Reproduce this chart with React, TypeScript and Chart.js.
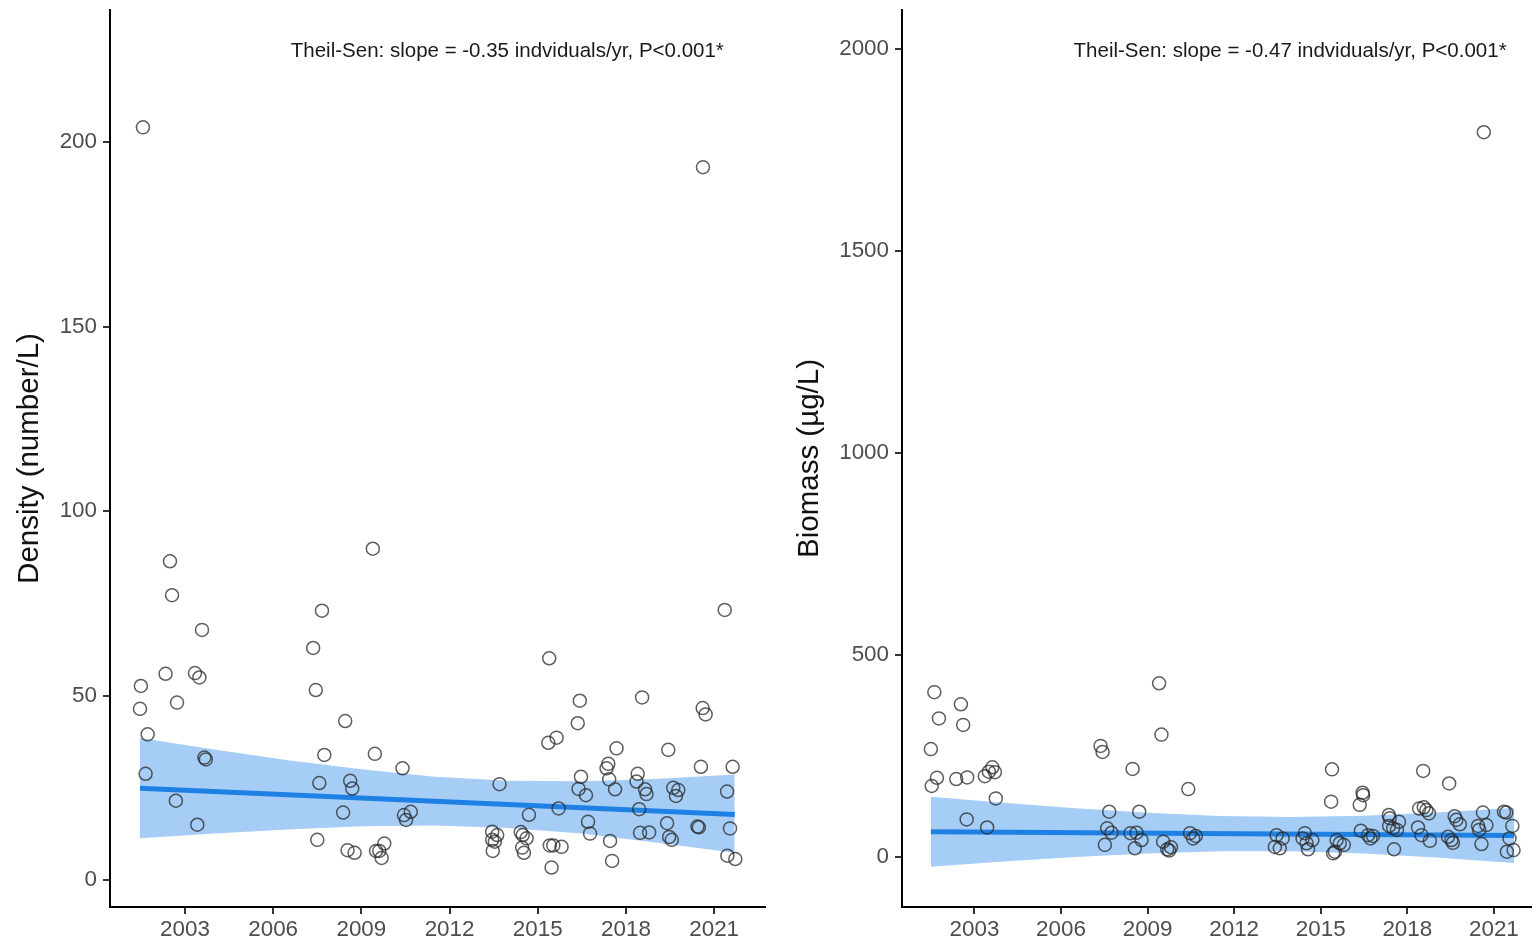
import React, { useEffect, useRef } from "react";
import { Chart, registerables } from "chart.js";

Chart.register(...registerables);

// ---------- tick labels ----------
const yearTicks = [2003, 2006, 2009, 2012, 2015, 2018, 2021];
const densityTicks = [0, 50, 100, 150, 200];
const biomassTicks = [0, 500, 1000, 1500, 2000];

// ---------- density panel (number/L) ----------
const densityYears = [
  2001.57, 2001.5, 2001.47, 2001.73, 2001.66, 2002.49, 2002.56, 2002.34, 2002.73, 2002.69,
  2003.58, 2003.34, 2003.49, 2003.66, 2003.71, 2003.42, 2007.36, 2007.45, 2007.66, 2007.74,
  2007.57, 2007.5, 2008.45, 2008.38, 2008.62, 2008.69, 2008.53, 2008.77, 2009.39, 2009.46,
  2009.5, 2009.61, 2009.69, 2009.78, 2010.4, 2010.45, 2010.52, 2010.68, 2013.7, 2013.45,
  2013.62, 2013.45, 2013.54, 2013.47, 2014.7, 2014.42, 2014.49, 2014.62, 2014.47, 2014.53,
  2015.39, 2015.36, 2015.64, 2015.71, 2015.41, 2015.53, 2015.81, 2015.47, 2016.43, 2016.36,
  2016.47, 2016.39, 2016.64, 2016.71, 2016.78, 2017.4, 2017.34, 2017.43, 2017.68, 2017.63,
  2017.46, 2017.53, 2018.55, 2018.4, 2018.36, 2018.65, 2018.7, 2018.45, 2018.48, 2018.79,
  2019.44, 2019.61, 2019.78, 2019.7, 2019.4, 2019.47, 2019.56, 2020.62, 2020.61, 2020.71,
  2020.55, 2020.43, 2020.48, 2021.36, 2021.63, 2021.44, 2021.54, 2021.45, 2021.72,
];
const densityValues = [
  204, 52.6, 46.4, 39.5, 28.8, 86.4, 77.2, 55.9, 48.1, 21.5,
  67.8, 56.1, 54.9, 33.2, 32.7, 15.0, 62.9, 51.5, 73.0, 33.9,
  26.3, 10.9, 43.1, 18.3, 26.9, 24.8, 8.1, 7.4, 89.8, 34.2,
  7.9, 7.9, 6.0, 9.9, 30.3, 17.6, 16.3, 18.5, 26.0, 13.1,
  12.2, 10.9, 10.4, 7.9, 17.7, 13.0, 12.2, 11.3, 8.8, 7.4,
  60.1, 37.2, 38.6, 19.4, 9.4, 9.4, 9.0, 3.4, 48.6, 42.5,
  28.0, 24.7, 23.0, 15.8, 12.6, 31.5, 30.3, 27.3, 35.7, 24.6,
  10.6, 5.2, 49.5, 28.8, 26.7, 24.6, 23.3, 19.2, 12.8, 12.9,
  35.3, 25.0, 24.4, 22.8, 15.4, 11.7, 10.9, 193.2, 46.6, 44.9,
  30.7, 14.5, 14.3, 73.2, 30.7, 24.0, 14.0, 6.6, 5.7,
];
const densityFitYears = [2001.47, 2021.7];
const densityFitValues = [24.9, 17.8];
const densityBandYears = [2001.47, 2004, 2006.5, 2009, 2011.5, 2014, 2016.5, 2019, 2021.7];
const densityBandUpper = [38.5, 35.4, 32.5, 30.0, 28.0, 26.9, 26.8, 27.4, 28.6];
const densityBandLower = [11.3, 12.6, 13.7, 14.6, 14.8, 14.1, 12.6, 10.2, 7.4];

// ---------- biomass panel (µg/L) ----------
const biomassYears = [
  2001.61, 2002.53, 2001.77, 2002.61, 2001.49, 2001.7, 2001.52, 2002.37, 2002.75, 2003.36,
  2003.5, 2003.62, 2003.71, 2003.74, 2002.73, 2003.44, 2007.37, 2007.44, 2009.4, 2009.48,
  2008.48, 2010.41, 2007.67, 2008.71, 2007.6, 2007.75, 2007.52, 2008.41, 2008.62, 2008.79,
  2008.56, 2009.54, 2009.68, 2009.75, 2009.81, 2010.47, 2010.58, 2010.67, 2013.47, 2013.41,
  2013.58, 2013.68, 2014.45, 2014.51, 2014.56, 2014.71, 2014.37, 2015.39, 2015.36, 2015.49,
  2015.43, 2015.55, 2015.66, 2015.8, 2016.45, 2016.47, 2016.35, 2016.39, 2016.64, 2016.72,
  2016.81, 2017.36, 2017.39, 2017.71, 2017.37, 2017.51, 2017.64, 2017.54, 2018.55, 2018.41,
  2018.57, 2018.66, 2018.75, 2018.37, 2018.49, 2018.78, 2019.45, 2019.64, 2019.7, 2019.82,
  2019.41, 2019.53, 2019.58, 2020.62, 2020.74, 2020.45, 2020.49, 2020.57, 2021.35, 2021.43,
  2021.64, 2021.54, 2021.45, 2021.68, 2020.65,
];
const biomassValues = [
  408, 378, 343, 327, 267, 196, 176, 193, 197, 200,
  211, 222, 210, 145, 93, 73, 275, 260, 430, 303,
  218, 168, 112, 112, 71, 60, 30, 59, 60, 42,
  21.5, 38, 19, 16, 24, 59, 46, 52, 54, 25,
  21.5, 46, 59, 34, 19, 42, 46, 217, 137, 13,
  9, 42, 34, 30, 159, 153, 129, 65, 54, 46,
  52, 104, 96, 87, 77, 71, 67, 19, 213, 120,
  123, 116, 108, 73, 54, 40, 182, 101, 92, 81,
  50, 42, 35, 110, 79, 77, 67, 32, 112, 110,
  77, 46, 13, 17, 1794,
];
const biomassFitYears = [2001.49, 2021.7];
const biomassFitValues = [62.6, 53.0];
const biomassBandYears = [2001.49, 2004, 2006.5, 2009, 2011.5, 2014, 2016.5, 2019, 2021.7];
const biomassBandUpper = [149, 134, 120.6, 109.4, 101.3, 98.9, 102.2, 109.9, 121.1];
const biomassBandLower = [-24, -11.4, -0.2, 8.6, 14.3, 14.5, 8.8, -1.3, -15.1];

const FONT = '"Liberation Sans", Arial, Helvetica, sans-serif';

const zip = (xs: number[], ys: number[]) => xs.map((x, i) => ({ x, y: ys[i] }));

type PanelProps = {
  left: number;
  width: number;
  years: number[];
  values: number[];
  fitYears: number[];
  fitValues: number[];
  bandYears: number[];
  bandUpper: number[];
  bandLower: number[];
  yTicks: number[];
  xMin: number;
  xMax: number;
  yMin: number;
  yMax: number;
  yAxisWidth: number;
  padRight: number;
  title: string;
  note: string;
  noteYear: number;
};

function Panel(p: PanelProps) {
  const ref = useRef<HTMLCanvasElement | null>(null);
  useEffect(() => {
    if (!ref.current) return;
    const notePlugin = {
      id: "notePlugin",
      afterDraw(chart: any) {
        const { ctx, chartArea, scales } = chart;
        ctx.save();
        ctx.font = `20.5px ${FONT}`;
        ctx.fillStyle = "#1a1a1a";
        ctx.textAlign = "right";
        ctx.textBaseline = "alphabetic";
        ctx.fillText(p.note, scales.x.getPixelForValue(p.noteYear), chartArea.top + 47);
        ctx.restore();
      },
    };
    const chart = new Chart(ref.current, {
      type: "line",
      data: {
        datasets: [
          {
            label: "obs",
            data: zip(p.years, p.values),
            showLine: false,
            pointRadius: 6.5,
            pointHoverRadius: 6.5,
            pointBorderWidth: 1.5,
            pointBorderColor: "rgba(40,40,40,0.75)",
            pointBackgroundColor: "rgba(0,0,0,0)",
            fill: false,
          },
          {
            label: "fit",
            data: zip(p.fitYears, p.fitValues),
            borderColor: "#1f80e4",
            borderWidth: 5,
            pointRadius: 0,
            fill: false,
            tension: 0,
          },
          {
            label: "upper",
            data: zip(p.bandYears, p.bandUpper),
            borderColor: "rgba(0,0,0,0)",
            borderWidth: 0,
            pointRadius: 0,
            backgroundColor: "#a5cdf5",
            fill: "+1",
            tension: 0,
          },
          {
            label: "lower",
            data: zip(p.bandYears, p.bandLower),
            borderColor: "rgba(0,0,0,0)",
            borderWidth: 0,
            pointRadius: 0,
            fill: false,
            tension: 0,
          },
        ],
      },
      options: {
        responsive: false,
        animation: false,
        devicePixelRatio: 1,
        events: [],
        layout: { autoPadding: false, padding: { top: 10, right: p.padRight, left: 0, bottom: 0 } },
        plugins: {
          legend: { display: false },
          tooltip: { enabled: false },
        },
        scales: {
          x: {
            type: "linear",
            min: p.xMin,
            max: p.xMax,
            afterBuildTicks: (s: any) => {
              s.ticks = yearTicks.map((v) => ({ value: v }));
            },
            afterFit: (s: any) => {
              s.height = 37;
              s.paddingLeft = 0;
              s.paddingRight = 0;
            },
            grid: {
              drawOnChartArea: false,
              drawTicks: true,
              tickLength: 7,
              color: "#333333",
              lineWidth: 2,
            },
            border: { display: true, color: "#000000", width: 2 },
            ticks: {
              color: "#4d4d4d",
              font: { family: FONT, size: 22.4 },
              padding: 2,
              maxRotation: 0,
              autoSkip: false,
              callback: (v: any) => String(v),
            },
          },
          y: {
            type: "linear",
            min: p.yMin,
            max: p.yMax,
            afterBuildTicks: (s: any) => {
              s.ticks = p.yTicks.map((v) => ({ value: v }));
            },
            afterFit: (s: any) => {
              s.width = p.yAxisWidth;
              s.paddingTop = 0;
              s.paddingBottom = 0;
            },
            grid: {
              drawOnChartArea: false,
              drawTicks: true,
              tickLength: 7,
              color: "#333333",
              lineWidth: 2,
            },
            border: { display: true, color: "#000000", width: 2 },
            ticks: {
              color: "#4d4d4d",
              font: { family: FONT, size: 22.4 },
              padding: 6,
              autoSkip: false,
              callback: (v: any) => String(v),
            },
            title: {
              display: true,
              text: p.title,
              color: "#111111",
              font: { family: FONT, size: 29.5 },
              padding: { top: 12, bottom: 0 },
            },
          },
        },
      },
      plugins: [notePlugin],
    } as any);
    return () => chart.destroy();
  }, []);
  return (
    <canvas
      ref={ref}
      width={p.width}
      height={944}
      style={{ position: "absolute", left: p.left, top: 0 }}
    />
  );
}

export default function App() {
  return (
    <div
      style={{
        position: "fixed",
        left: 0,
        top: 0,
        width: 1532,
        height: 944,
        background: "#ffffff",
        overflow: "hidden",
      }}
    >
      <Panel
        left={0}
        width={775}
        years={densityYears}
        values={densityValues}
        fitYears={densityFitYears}
        fitValues={densityFitValues}
        bandYears={densityBandYears}
        bandUpper={densityBandUpper}
        bandLower={densityBandLower}
        yTicks={densityTicks}
        xMin={2000.45}
        xMax={2022.73}
        yMin={-7.3}
        yMax={235.8}
        yAxisWidth={110}
        padRight={10}
        title="Density (number/L)"
        note="Theil-Sen: slope = -0.35 indviduals/yr, P<0.001*"
        noteYear={2021.33}
      />
      <Panel
        left={780}
        width={752}
        years={biomassYears}
        values={biomassValues}
        fitYears={biomassFitYears}
        fitValues={biomassFitValues}
        bandYears={biomassBandYears}
        bandUpper={biomassBandUpper}
        bandLower={biomassBandLower}
        yTicks={biomassTicks}
        xMin={2000.49}
        xMax={2022.32}
        yMin={-123.8}
        yMax={2096.5}
        yAxisWidth={122}
        padRight={0}
        title="Biomass (µg/L)"
        note="Theil-Sen: slope = -0.47 indviduals/yr, P<0.001*"
        noteYear={2021.44}
      />
    </div>
  );
}
